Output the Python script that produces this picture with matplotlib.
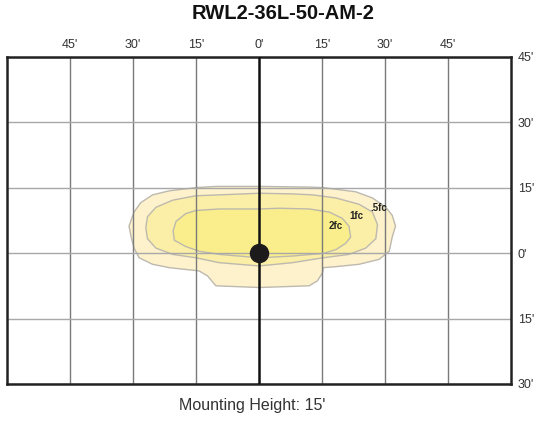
import numpy as np
import matplotlib
matplotlib.use('Agg')
import matplotlib.pyplot as plt

plt.rcParams['font.family'] = ['Liberation Sans', 'DejaVu Sans']

title = 'RWL2-36L-50-AM-2'
subtitle = "Mounting Height: 15'"

x_ticks = [-45, -30, -15, 0, 15, 30, 45]
x_labels = ["45'", "30'", "15'", "0'", "15'", "30'", "45'"]
y_ticks = [45, 30, 15, 0, -15, -30]
y_labels = ["45'", "30'", "15'", "0'", "15'", "30'"]

# iso-footcandle outlines, feet from the fixture
half_x = [0, 11.9, 15.3, 23.0, 27.0, 30.2, 31.7, 32.5, 31.7, 31.0, 28.6, 23.8, 18.3, 15.3,
          15.1, 13.9, 11.9, 0, -10.3, -12.3, -14.3, -21.4, -25.4, -28.6, -29.8, -30.5,
          -31.0, -29.8, -28.2, -25.4, -21.4, -15.1, -10.3]
half_y = [15.28, 15.13, 15.0, 14.05, 12.63, 10.48, 8.67, 6.18, 3.66, 0.43, -1.43, -2.57,
          -3.11, -3.34, -4.48, -6.36, -7.5, -7.89, -7.5, -5.23, -4.09, -3.34, -2.57, -1.07,
          1.14, 3.66, 6.18, 9.40, 11.56, 13.34, 14.27, 15.0, 15.28]

one_x = [0, 7.9, 12.7, 18.3, 23.8, 27.0, 28.2, 27.8, 25.4, 21.4, 15.3, 7.9, 0, -9.5,
         -15.1, -20.6, -24.6, -26.6, -27.0, -26.6, -24.6, -20.6, -15.1, -9.5]
one_y = [13.71, 13.56, 13.34, 12.63, 11.19, 9.40, 6.52, 3.29, 1.14, -0.30, -1.07, -2.20,
         -2.95, -2.20, -1.07, -0.30, 1.14, 3.29, 5.81, 8.33, 10.48, 12.12, 13.13, 13.34]

two_x = [0, 4.8, 11.9, 16.7, 19.8, 21.4, 21.8, 20.6, 18.3, 15.3, 7.9, 0, -9.5, -14.3,
         -17.5, -20.2, -20.5, -19.8, -17.5, -15.1, -9.5]
two_y = [10.11, 10.27, 10.11, 9.40, 7.96, 6.18, 3.66, 2.22, 0.80, -0.07, -0.68, -1.07,
         -0.30, 0.43, 1.51, 2.95, 5.10, 7.25, 9.04, 9.75, 10.11]

contour_names = ['.5fc', '1fc', '2fc']
label_x = [28.6, 23.1, 18.3]
label_y = [10.3, 8.4, 6.3]

fig = plt.figure(figsize=(5.38, 4.21), dpi=100)
ax = fig.add_axes([0.01357, 0.0879, 0.9362, 0.7774])

for xs, ys, col in zip([half_x, one_x, two_x], [half_y, one_y, two_y],
                       ['#fdf2cc', '#fbeea6', '#f9ee8b']):
    ax.fill(xs, ys, facecolor=col, edgecolor='#bdb9ae', lw=1, zorder=1)

for t in x_ticks:
    if t != 0:
        ax.axvline(t, color='#7a7a7a', lw=1, zorder=2)
for t in y_ticks:
    ax.axhline(t, color='#a8a8a8', lw=1, zorder=2)
ax.axvline(0, color='#111111', lw=1.8, zorder=3)

for nm, lx, ly in zip(contour_names, label_x, label_y):
    ax.text(lx, ly, nm, fontsize=7, fontweight='bold', color='#222222',
            ha='center', va='center', zorder=4)

ax.plot([0], [0], 'o', color='#1d1a1c', markersize=13, zorder=5)

ax.set_xlim(-60, 60)
ax.set_ylim(-30, 45)
ax.xaxis.tick_top()
ax.yaxis.tick_right()
ax.set_xticks(x_ticks)
ax.set_xticklabels(x_labels)
ax.set_yticks(y_ticks)
ax.set_yticklabels(y_labels)
ax.tick_params(length=0, labelsize=9, colors='#333333')
ax.tick_params(axis='x', pad=4)
ax.tick_params(axis='y', pad=5)
for s in ax.spines.values():
    s.set_color('#222222')
    s.set_linewidth(1.8)

fig.text(0.526, 0.967, title, fontsize=14.5, fontweight='bold', ha='center', va='center',
         color='#111111')
fig.text(0.469, 0.038, subtitle, fontsize=11.5, ha='center', va='center', color='#333333')

fig.savefig('out.png', dpi=100)
